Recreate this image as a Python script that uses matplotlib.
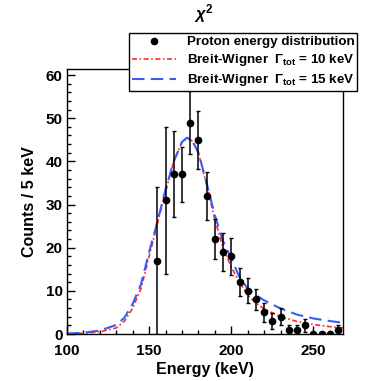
import matplotlib
matplotlib.use("Agg")
import matplotlib.pyplot as plt
from matplotlib.lines import Line2D
import numpy as np

plt.rcParams['font.family'] = ['Liberation Sans', 'DejaVu Sans']
plt.rcParams['font.weight'] = 'bold'
plt.rcParams['mathtext.fontset'] = 'custom'
plt.rcParams['mathtext.rm'] = 'Liberation Sans'
plt.rcParams['mathtext.it'] = 'Liberation Sans:italic'
plt.rcParams['mathtext.bf'] = 'Liberation Sans:bold'

# Data points (proton energy distribution)
energy = [155, 160, 165, 170, 175, 180, 185, 190, 195, 200, 205, 210, 215,
          220, 225, 230, 235, 240, 245, 250, 255, 260, 265]
counts = [17, 31, 37, 37, 49, 45, 32, 22, 19, 18, 12, 10, 8,
          5, 3, 4, 1, 1, 2, 0, 0, 0, 1]
errors = [17, 17, 10, 6.3, 7.2, 6.7, 5.6, 4.7, 4.5, 4.3, 3.3, 2.9, 2.5,
          2.2, 1.8, 2.0, 1.0, 1.0, 1.5, 0, 0, 0, 1.0]

# Breit-Wigner curves
bw_x = [100, 110, 120, 130, 135, 140, 145, 150, 155, 160, 165, 170, 173, 176,
        180, 185, 190, 195, 200, 205, 210, 215, 220, 230, 240, 250, 260, 268]
bw15 = [0.1, 0.3, 0.8, 2.1, 3.8, 7.0, 11.5, 19.0, 26.0, 33.5, 40.0, 44.5, 45.5, 45.0,
        42.0, 35.0, 27.5, 21.5, 17.5, 13.2, 10.5, 9.0, 7.8, 5.9, 4.5, 3.6, 3.0, 2.6]
bw10 = [0.05, 0.15, 0.5, 1.4, 3.0, 6.0, 10.5, 18.0, 25.5, 33.0, 40.0, 44.5, 45.3, 44.8,
        42.0, 34.5, 26.5, 20.0, 15.5, 12.0, 9.0, 7.2, 5.8, 4.0, 2.9, 2.2, 1.7, 1.4]

labels = ["Proton energy distribution",
          r"Breit-Wigner  $\Gamma_{\bf tot}$ = 10 keV",
          r"Breit-Wigner  $\Gamma_{\bf tot}$ = 15 keV"]

W, H = 365, 381
fig = plt.figure(figsize=(W / 100, H / 100), dpi=100)
ax = fig.add_axes([67 / W, 1 - 334 / H, 276 / W, 265 / H])

l10, = ax.plot(bw_x, bw10, color='#ff2a2a', lw=1.2, ls=(0, (3, 1.5, 1, 1.5)), zorder=2)
l15, = ax.plot(bw_x, bw15, color='#3a5cff', lw=1.5, ls=(0, (6, 3)), zorder=2)
ax.errorbar(energy, counts, yerr=errors, fmt='o', color='black', ms=4.5,
            elinewidth=1.1, capsize=1.6, capthick=1.0, zorder=3)

ax.set_xlim(100, 268)
ax.set_ylim(0, 61.4)
ax.set_xticks([100, 150, 200, 250])
ax.set_xticks(np.arange(100, 268, 10), minor=True)
ax.set_yticks(np.arange(0, 61, 10))
ax.set_yticks(np.arange(0, 61, 2), minor=True)
ax.tick_params(direction='in', which='major', length=6, width=1, labelsize=11, pad=3)
ax.tick_params(direction='in', which='minor', length=3, width=1)
ax.tick_params(axis='x', which='major', pad=7)
for s in ax.spines.values():
    s.set_linewidth(1.0)

ax.set_xlabel("Energy (keV)", fontsize=11.5, fontweight='bold', labelpad=3)
ax.set_ylabel("Counts / 5 keV", fontsize=11.5, fontweight='bold', labelpad=6)

fig.text(204 / W, 1 - 14 / H, r"$\chi^{2}$", ha='center', va='center',
         fontsize=12, fontweight='normal')

dot = Line2D([], [], marker='o', color='black', ls='none', ms=4.5)
leg = fig.legend([dot, l10, l15], labels, loc='upper left',
                 bbox_to_anchor=(129 / W, 1 - 33 / H), bbox_transform=fig.transFigure,
                 borderaxespad=0, fancybox=False, framealpha=1, edgecolor='black',
                 handlelength=3.3, handletextpad=0.8,
                 borderpad=0.22, labelspacing=0.3, prop={'weight': 'bold', 'size': 9.6})
leg.get_frame().set_linewidth(1.0)
leg.set_zorder(10)

fig.savefig("out.png", dpi=100)
